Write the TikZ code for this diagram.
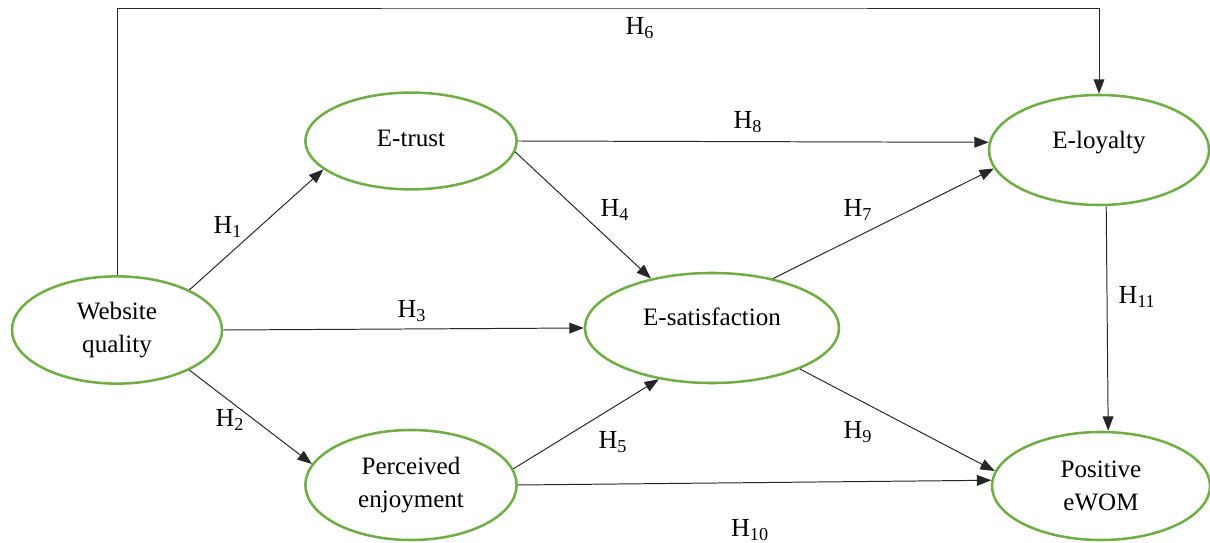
\documentclass[tikz,border=0pt]{standalone}
\usepackage{fontspec}
\setmainfont{Liberation Serif}
\usetikzlibrary{shapes.geometric, arrows.meta}

\definecolor{ovalgreen}{RGB}{112,173,71}

\begin{document}
\begin{tikzpicture}[x=0.025cm, y=-0.025cm,
    construct/.style={draw=ovalgreen, line width=1.8pt, ellipse, inner sep=2pt, align=center, font=\fontsize{17.8}{23.5}\selectfont},
    hyp/.style={font=\fontsize{18.5}{22}\selectfont},
    path/.style={-{Triangle[length=0.36cm, width=0.27cm]}, line width=0.7pt, black!85}]
    \useasboundingbox (0,0) rectangle (1210,543);

    \node[construct, minimum width=5.25cm, minimum height=2.68cm] (site) at (117,330) {Website\\quality};
    \node[construct, minimum width=5.28cm, minimum height=2.42cm] (trust) at (411,141) {\raisebox{0.15cm}{E-trust}};
    \node[construct, minimum width=6.35cm, minimum height=2.75cm] (satis) at (712,328) {\raisebox{0.55cm}{E-satisfaction}};
    \node[construct, minimum width=5.5cm, minimum height=2.75cm] (loyal) at (1099,150) {\raisebox{0.5cm}{E-loyalty}};
    \node[construct, minimum width=5.28cm, minimum height=2.75cm] (enjoy) at (411,485) {Perceived\\enjoyment};
    \node[construct, minimum width=5.45cm, minimum height=2.7cm] (ewom) at (1101,486) {Positive\\eWOM};

    \coordinate (top) at (640,8);

    \draw[path] (site.north) |- (top) -| (loyal.north);
    \draw[path] (site.29) -- (trust.198);
    \draw[path] (site.0) -- (satis.180);
    \draw[path] (site.331) -- (enjoy.168);
    \draw[path] (trust.0) -- (loyal.176);
    \draw[path] (trust.354) -- (satis.141);
    \draw[path] (satis.39) -- (loyal.190);
    \draw[path] (enjoy.9) -- (satis.224);
    \draw[path] (satis.335) -- (ewom.172);
    \draw[path] (enjoy.0) -- (ewom.177);
    \draw[path] ([xshift=0.18cm]loyal.south) -- ([xshift=0.18cm]ewom.north);

    \node[hyp] (h6) at (640,28) {H\textsubscript{6}};
    \node[hyp] (h1) at (228,227) {H\textsubscript{1}};
    \node[hyp] (h3) at (412,311) {H\textsubscript{3}};
    \node[hyp] (h2) at (230,420) {H\textsubscript{2}};
    \node[hyp] (h8) at (748,122) {H\textsubscript{8}};
    \node[hyp] (h4) at (615,210) {H\textsubscript{4}};
    \node[hyp] (h7) at (858,210) {H\textsubscript{7}};
    \node[hyp] (h5) at (613,442) {H\textsubscript{5}};
    \node[hyp] (h9) at (858,432) {H\textsubscript{9}};
    \node[hyp] (h10) at (750,530) {H\textsubscript{10}};
    \node[hyp] (h11) at (1137,297) {H\textsubscript{11}};
\end{tikzpicture}
\end{document}
